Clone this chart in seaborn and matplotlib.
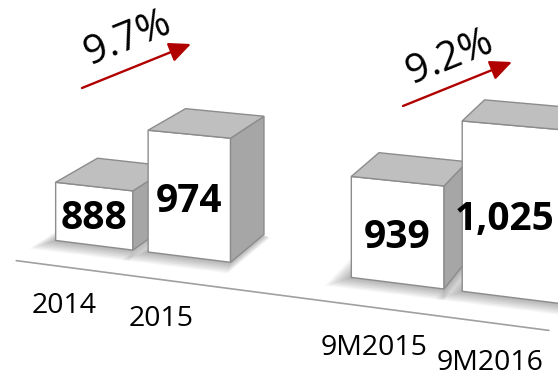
import numpy as np
import pandas as pd
import matplotlib
matplotlib.use("Agg")
import matplotlib.pyplot as plt
import seaborn as sns
from matplotlib.transforms import Transform, IdentityTransform
from matplotlib.patches import Polygon, FancyArrowPatch

# ---- data -------------------------------------------------------------
periods = ["2014", "2015", "9M2015", "9M2016"]
groups = ["Full year", "Full year", "Nine months", "Nine months"]
slots = ["prior", "current", "prior", "current"]
values = [888, 974, 939, 1025]
value_labels = ["888", "974", "939", "1,025"]

# ---- style ------------------------------------------------------------
sns.set_theme(style="white")
plt.rcParams['font.family'] = ['Open Sans', 'DejaVu Sans']

W, H = 558, 377
fig = plt.figure(figsize=(W / 100, H / 100), dpi=100)
fig.patch.set_facecolor("white")
ax = fig.add_axes([0, 0, 1, 1])

df = pd.DataFrame({"group": groups, "slot": slots, "value": values,
                   "period": periods})
sns.barplot(data=df, x="group", y="value", hue="slot",
            hue_order=["prior", "current"], palette=["white", "white"],
            width=0.667, gap=0.16, edgecolor="#8c8c8c", linewidth=1.0,
            legend=False, errorbar=None, ax=ax)

# linear part of the layout (pixels per unit)
A, B = 140.5, 285.0
BASE, SY = 806.0, 0.70
ax.set_xlim(-A / B, (W - A) / B)
ax.set_ylim(BASE, BASE + H / SY)
ax.set_axis_off()

# ---- perspective transform (applied after the axes' data transform) ---
QX, XC = 0.00034, 140.5
Y0, SLOPE, SA = 143.5, 0.125, 0.00024


class Persp(Transform):
    input_dims = 2
    output_dims = 2
    is_separable = False

    def transform_non_affine(self, values):
        v = np.asarray(values, float).reshape(-1, 2)
        X, Y = v[:, 0], v[:, 1]
        x = X + QX * (X - XC) ** 2
        y = Y0 - SLOPE * x + Y * (1 + SA * x)
        return np.column_stack([x, y])


persp = Persp()
T = ax.transData + persp

VP = np.array([927.0, 696.0])
F = 0.048


def back(p):
    return p + F * (VP - p)


EDGE = "#8c8c8c"
renderer = fig.canvas.get_renderer()
bars = sorted(ax.patches, key=lambda p: p.get_x())
for i, (p, lab, cat) in enumerate(zip(bars, value_labels, periods)):
    v = p.get_height()
    x0, w = p.get_x(), p.get_width()
    p.set_y(BASE)
    p.set_height(v - BASE)
    p.set_transform(T)
    p.set_clip_on(False)
    p.set_zorder(10 + 4 * i)

    BL, BR, TR, TL = T.transform([(x0, BASE), (x0 + w, BASE),
                                  (x0 + w, v), (x0, v)])
    # soft shadow of the footprint
    foot = np.array([BL, BR, back(BR), back(BL)])
    c = foot.mean(axis=0)
    for k in range(1, 9):
        pts = c + (foot - c) * (1 + 0.035 * k) + np.array([-1.2 * k, -0.7 * k])
        ax.add_patch(Polygon(pts, closed=True, fc="black", ec="none",
                             alpha=0.04, transform=IdentityTransform(),
                             clip_on=False, zorder=5))
    side = [BR, TR, back(TR), back(BR)]
    top = [TL, TR, back(TR), back(TL)]
    ax.add_patch(Polygon(side, closed=True, fc="#a6a6a6", ec=EDGE, lw=1.0,
                         transform=IdentityTransform(), clip_on=False,
                         zorder=10 + 4 * i + 1))
    ax.add_patch(Polygon(top, closed=True, fc="#bfbfbf", ec=EDGE, lw=1.0,
                         transform=IdentityTransform(), clip_on=False,
                         zorder=10 + 4 * i + 2))

    xc = x0 + w / 2
    lx, ly = T.transform([(xc, BASE + 0.45 * (v - BASE))])[0]
    t = ax.text(lx, ly, lab, transform=IdentityTransform(), ha="center",
                va="center", fontsize=28, fontweight="bold", color="black",
                zorder=40)
    ext = t.get_window_extent(renderer)
    if ext.x1 > W - 4:
        t.set_x(lx - (ext.x1 - (W - 4)))
    bx, by = T.transform([(xc, BASE)])[0]
    dx = -31 + 0.02 * bx
    dy = -(60 + 0.012 * bx)
    ax.text(bx + dx, by + dy, cat, transform=IdentityTransform(),
            ha="center", va="center", fontsize=20.5, color="black",
            zorder=40)

# floor line
ax.plot([10.5, 504], [-25, -25], transform=persp, color="#a0a0a0",
        lw=1.2, clip_on=False, zorder=3)

# growth arrows
growth = [values[1] / values[0] - 1, values[3] / values[2] - 1]
arrows = [((82, 289), (191, 333), (128, 338)),
          ((403, 271), (512, 315), (450, 319))]
for g, (pa, pb, pt) in zip(growth, arrows):
    arr = FancyArrowPatch(pa, pb, transform=IdentityTransform(),
                          arrowstyle="-|>,head_length=1.1,head_width=0.5",
                          mutation_scale=12, color="#b00000", lw=1.7,
                          shrinkA=0, shrinkB=0, zorder=50)
    fig.add_artist(arr)
    ang = np.degrees(np.arctan2(pb[1] - pa[1], pb[0] - pa[0]))
    fig.text(pt[0] / W, pt[1] / H, f"{g * 100:.1f}%", rotation=ang,
             rotation_mode="anchor", ha="center", va="center",
             fontsize=29, color="black", zorder=50)

fig.savefig("out.png", dpi=100)
